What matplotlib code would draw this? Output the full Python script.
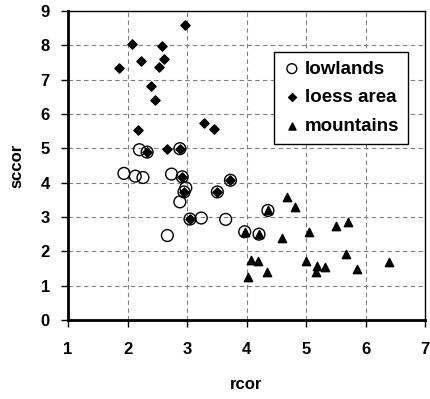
import matplotlib.pyplot as plt

plt.rcParams["font.family"] = ["Liberation Sans", "DejaVu Sans"]
plt.rcParams["font.weight"] = "bold"

# rcor / sccor per landscape type
lowlands_x = [2.20, 2.33, 2.88, 1.94, 2.13, 2.26, 2.74, 2.92, 3.73, 2.98, 2.95,
              3.51, 2.88, 3.05, 3.24, 3.65, 2.67, 3.97, 4.21, 4.36]
lowlands_y = [4.96, 4.89, 4.99, 4.27, 4.19, 4.15, 4.25, 4.17, 4.07, 3.85, 3.73,
              3.73, 3.44, 2.94, 2.97, 2.93, 2.46, 2.57, 2.50, 3.19]

loess_x = [2.97, 2.07, 2.58, 2.23, 2.62, 1.86, 2.53, 2.39, 2.46, 3.29, 3.46,
           2.17, 2.66, 2.88, 2.33, 2.92, 3.73, 2.95, 3.51, 3.05]
loess_y = [8.60, 8.03, 7.99, 7.55, 7.59, 7.33, 7.36, 6.83, 6.40, 5.75, 5.57,
           5.53, 4.99, 4.99, 4.89, 4.17, 4.07, 3.73, 3.73, 2.94]

mountains_x = [4.68, 4.81, 4.36, 3.97, 4.21, 4.59, 5.05, 5.50, 5.71, 4.08,
               4.19, 4.02, 4.35, 5.00, 5.18, 5.16, 5.32, 5.67, 5.85, 6.39]
mountains_y = [3.57, 3.28, 3.19, 2.57, 2.50, 2.39, 2.56, 2.75, 2.85, 1.75,
               1.73, 1.24, 1.40, 1.73, 1.58, 1.40, 1.55, 1.91, 1.48, 1.70]

fig = plt.figure(figsize=(4.30, 3.99), dpi=100)
ax = fig.add_axes([68 / 430, 1 - 320 / 399, (425 - 68) / 430, (320 - 11) / 399])

ax.scatter(loess_x, loess_y, marker="D", s=22, color="black", zorder=3, label="loess area")
ax.scatter(mountains_x, mountains_y, marker="^", s=36, color="black", zorder=3, label="mountains")
ax.scatter(lowlands_x, lowlands_y, marker="o", s=72, facecolors="none",
           edgecolors="black", linewidths=1.0, zorder=4, label="lowlands")

ax.set_xlim(1, 7)
ax.set_ylim(0, 9)
ax.set_xticks(range(1, 8))
ax.set_yticks(range(0, 10))
ax.grid(True, color="#808080", linestyle=(0, (4, 3)), linewidth=0.8)
ax.set_axisbelow(True)

for side in ("left", "bottom"):
    ax.spines[side].set_linewidth(2)
for side in ("top", "right"):
    ax.spines[side].set_linewidth(1)
ax.tick_params(direction="out", length=5, width=1, labelsize=12)
ax.tick_params(axis="x", pad=11)
ax.tick_params(axis="y", pad=8)
for lbl in ax.get_xticklabels() + ax.get_yticklabels():
    lbl.set_fontweight("bold")

ax.set_xlabel("rcor", fontsize=12, fontweight="bold", labelpad=14)
ax.set_ylabel("sccor", fontsize=12, fontweight="bold", labelpad=12)

handles, labels = ax.get_legend_handles_labels()
order = [2, 0, 1]
leg = ax.legend([handles[i] for i in order], [labels[i] for i in order],
                loc="upper left", bbox_to_anchor=((274 - 68) / 357, (320 - 52) / 309),
                prop={"weight": "bold", "size": 13.5}, frameon=True, fancybox=False,
                edgecolor="black", framealpha=1, handletextpad=0.2,
                handlelength=1.0, borderpad=0.45, labelspacing=0.62,
                borderaxespad=0)
leg.get_frame().set_linewidth(1)
legend_sizes = {"lowlands": 50, "loess area": 16, "mountains": 26}
for h in leg.legend_handles:
    h.set_sizes([legend_sizes[h.get_label()]])

fig.savefig("out.png", dpi=100)
